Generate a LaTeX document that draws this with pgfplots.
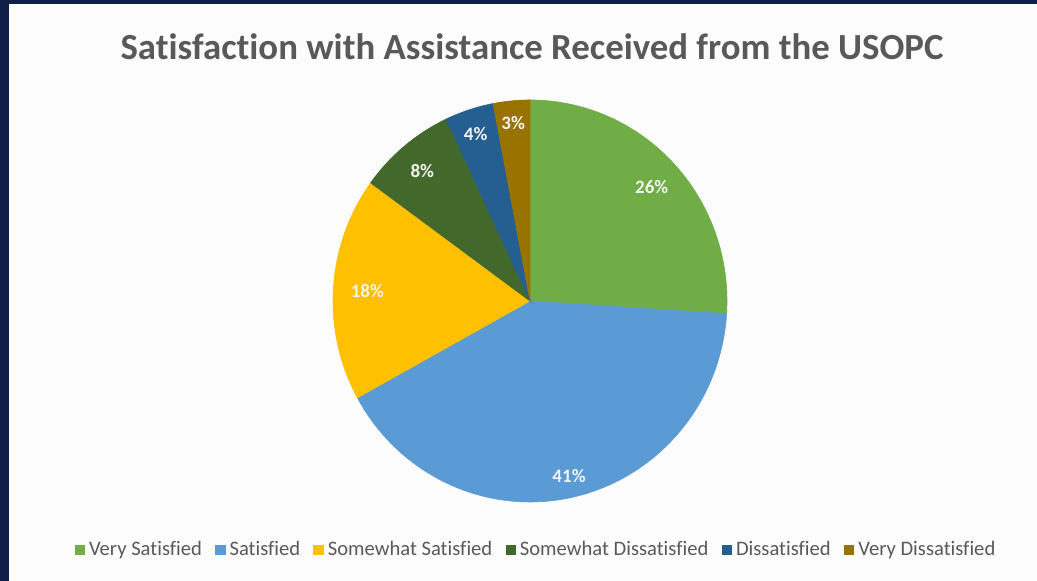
\documentclass[border=0pt]{standalone}
\usepackage{pgfplots}
\pgfplotsset{compat=1.18}
\usepackage{pgfplotstable}
\usepackage{fontspec}
\setmainfont{Carlito}[Ligatures=NoCommon]

\definecolor{cVS}{HTML}{70AD47}
\definecolor{cS}{HTML}{5B9BD5}
\definecolor{cSS}{HTML}{FFC000}
\definecolor{cSD}{HTML}{43682B}
\definecolor{cD}{HTML}{255E91}
\definecolor{cVD}{HTML}{997300}
\definecolor{navy}{HTML}{0F1F47}
\definecolor{txt}{HTML}{595959}

% share (%) and label distance from centre (px)
\pgfplotstableread{
value r
26 167
41 179
18 163
8 169
4 176
3 179
}\piedata

\def\cum{90}
\newcommand\slicecalc[2]{%
  \pgfplotstablegetelem{#1}{value}\of\piedata
  \pgfmathsetmacro\tmpe{\cum-3.6*\pgfplotsretval}%
  \expandafter\xdef\csname s#2\endcsname{\cum}%
  \expandafter\xdef\csname e#2\endcsname{\tmpe}%
  \pgfmathsetmacro\tmpm{(\cum+\tmpe)/2}%
  \expandafter\xdef\csname m#2\endcsname{\tmpm}%
  \expandafter\xdef\csname v#2\endcsname{\pgfplotsretval}%
  \pgfplotstablegetelem{#1}{r}\of\piedata
  \expandafter\xdef\csname r#2\endcsname{\pgfplotsretval}%
  \xdef\cum{\tmpe}%
}

\begin{document}
\slicecalc{0}{A}\slicecalc{1}{B}\slicecalc{2}{C}\slicecalc{3}{D}\slicecalc{4}{E}\slicecalc{5}{F}%
\begin{tikzpicture}
\begin{axis}[
  x=0.5pt, y=0.5pt,
  xmin=0, xmax=1037, ymin=0, ymax=581,
  hide axis, clip=false,
  samples=90,
  area legend,
  legend image code/.code={\fill[#1,draw=none] (0pt,-2.6pt) rectangle (5.2pt,2.6pt);},
  legend style={at={(axis cs:537,31)}, anchor=center, draw=none, fill=none,
    legend columns=-1, font=\fontsize{10.3}{12}\selectfont, text=txt,
    /tikz/every even column/.append style={column sep=4.6pt},
    legend cell align=left},
]
% background
\fill[navy] (axis cs:0,0) rectangle (axis cs:1037,581);
\fill[white!99!black] (axis cs:9,0) rectangle (axis cs:1037,577);

\def\cx{530}\def\cy{280}\def\R{197}\def\Ry{201}
\addplot[fill=cVS, draw=cVS, line width=0.3pt, domain=\eA:\sA] ({\cx+\R*cos(x)},{\cy+\Ry*sin(x)}) -- (axis cs:\cx,\cy) -- cycle;
\addlegendentry{Very Satisfied}
\addplot[fill=cS, draw=cS, line width=0.3pt, domain=\eB:\sB] ({\cx+\R*cos(x)},{\cy+\Ry*sin(x)}) -- (axis cs:\cx,\cy) -- cycle;
\addlegendentry{Satisfied}
\addplot[fill=cSS, draw=cSS, line width=0.3pt, domain=\eC:\sC] ({\cx+\R*cos(x)},{\cy+\Ry*sin(x)}) -- (axis cs:\cx,\cy) -- cycle;
\addlegendentry{Somewhat Satisfied}
\addplot[fill=cSD, draw=cSD, line width=0.3pt, domain=\eD:\sD] ({\cx+\R*cos(x)},{\cy+\Ry*sin(x)}) -- (axis cs:\cx,\cy) -- cycle;
\addlegendentry{Somewhat Dissatisfied}
\addplot[fill=cD, draw=cD, line width=0.3pt, domain=\eE:\sE] ({\cx+\R*cos(x)},{\cy+\Ry*sin(x)}) -- (axis cs:\cx,\cy) -- cycle;
\addlegendentry{Dissatisfied}
\addplot[fill=cVD, draw=cVD, line width=0.3pt, domain=\eF:\sF] ({\cx+\R*cos(x)},{\cy+\Ry*sin(x)}) -- (axis cs:\cx,\cy) -- cycle;
\addlegendentry{Very Dissatisfied}

% percentage labels
\begin{scope}[every node/.style={font=\bfseries\fontsize{9.5}{11}\selectfont, text=white!95!black, anchor=center}]
\node at (axis cs:{\cx+\rA*cos(\mA)},{\cy+\rA*sin(\mA)}) {\vA\%};
\node at (axis cs:{\cx+\rB*cos(\mB)},{\cy+\rB*sin(\mB)}) {\vB\%};
\node at (axis cs:{\cx+\rC*cos(\mC)},{\cy+\rC*sin(\mC)}) {\vC\%};
\node at (axis cs:{\cx+\rD*cos(\mD)},{\cy+\rD*sin(\mD)}) {\vD\%};
\node at (axis cs:{\cx+\rE*cos(\mE)},{\cy+\rE*sin(\mE)}) {\vE\%};
\node at (axis cs:{\cx+\rF*cos(\mF)},{\cy+\rF*sin(\mF)}) {\vF\%};
\end{scope}

% title
\node[font=\bfseries\fontsize{18.4}{21}\selectfont, text=txt, anchor=center] at (axis cs:532,534) {Satisfaction with Assistance Received from the USOPC};
\end{axis}
\end{tikzpicture}
\end{document}
